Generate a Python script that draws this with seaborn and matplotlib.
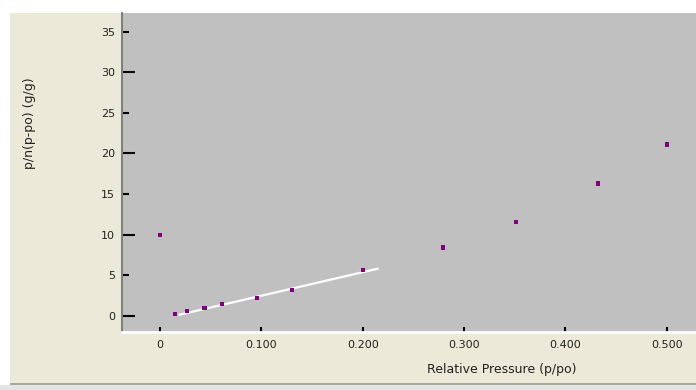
import matplotlib
matplotlib.use("Agg")
import matplotlib.pyplot as plt
import seaborn as sns
import pandas as pd
from matplotlib.patches import Rectangle

# Messpunkte
rel_pressure = [0.0, 0.015, 0.027, 0.044, 0.061, 0.096, 0.130, 0.200, 0.279, 0.351, 0.432, 0.500]
bet_value = [10.0, 0.2, 0.6, 1.0, 1.4, 2.2, 3.2, 5.6, 8.4, 11.6, 16.3, 21.1]

# Ausgleichsgerade
fit_x = [0.019, 0.215]
fit_y = [0.12, 5.8]

x_ticks = [0, 0.1, 0.2, 0.3, 0.4, 0.5]
x_tick_labels = ["0", "0.100", "0.200", "0.300", "0.400", "0.500"]
y_major = [0, 10, 20, 30]
y_minor = [5, 15, 25, 35]

punkte = pd.DataFrame({"p": rel_pressure, "v": bet_value})
linie = pd.DataFrame({"p": fit_x, "v": fit_y})

sns.set_style("white")
plt.rcParams["font.family"] = ["DejaVu Sans"]

fig = plt.figure(figsize=(6.96, 3.9), dpi=100, facecolor="white")
W, H = 696, 390
# Hintergrundflaechen (hinter den Achsen)
fig.patches.append(Rectangle((10 / W, 7 / H), 1, (377 - 7) / H, transform=fig.transFigure,
                             facecolor="#ECE9D8", edgecolor="none", zorder=-5))
fig.patches.append(Rectangle((0, 0), 1, 5 / H, transform=fig.transFigure,
                             facecolor="#E4E4E4", edgecolor="none", zorder=-5))
fig.patches.append(Rectangle((10 / W, 5 / H), 1, 2 / H, transform=fig.transFigure,
                             facecolor="#A8A8A0", edgecolor="none", zorder=-5))

ax = fig.add_axes([122 / W, 58 / H, 1 - 122 / W, (332 - 13) / H])
ax.set_zorder(1)
ax.set_facecolor("#C0C0C0")

sns.lineplot(data=linie, x="p", y="v", color="white", linewidth=1.6, ax=ax, zorder=2)
sns.scatterplot(data=punkte, x="p", y="v", marker="s", color="#800080", s=9,
                edgecolor="none", ax=ax, zorder=3)

ax.set_xlim(-0.0375, 0.529)
ax.set_ylim(-2.0, 37.3)
ax.set_xticks(x_ticks)
ax.set_xticklabels(x_tick_labels)
ax.set_yticks(y_major)
ax.set_yticks(y_minor, minor=True)
ax.set_yticklabels([str(v) for v in y_major])
ax.set_yticklabels([str(v) for v in y_minor], minor=True)

ax.tick_params(axis="y", which="major", direction="in", length=9.4, width=1.5, color="black",
               labelsize=8, labelcolor="#222222", pad=5, left=True)
ax.tick_params(axis="y", which="minor", direction="in", length=5, width=1.5, color="black",
               labelsize=8, labelcolor="#222222", pad=5, left=True)
ax.tick_params(axis="x", which="major", direction="in", length=3.6, width=1.5, color="black",
               labelsize=8, labelcolor="#222222", pad=6, bottom=True)

for s in ["top", "right"]:
    ax.spines[s].set_visible(False)
ax.spines["left"].set_color("#808080")
ax.spines["left"].set_linewidth(1.5)
ax.spines["bottom"].set_color("white")
ax.spines["bottom"].set_linewidth(2)

ax.set_xlabel("")
ax.set_ylabel("")
fig.text(502 / W, 1 - 370 / H, "Relative Pressure (p/po)", ha="center", va="center",
         fontsize=9, color="#222222")
fig.text(30 / W, 1 - 123 / H, "p/n(p-po) (g/g)", ha="center", va="center", rotation=90,
         fontsize=9, color="#222222")

fig.savefig("out.png", dpi=100, facecolor=fig.get_facecolor())
